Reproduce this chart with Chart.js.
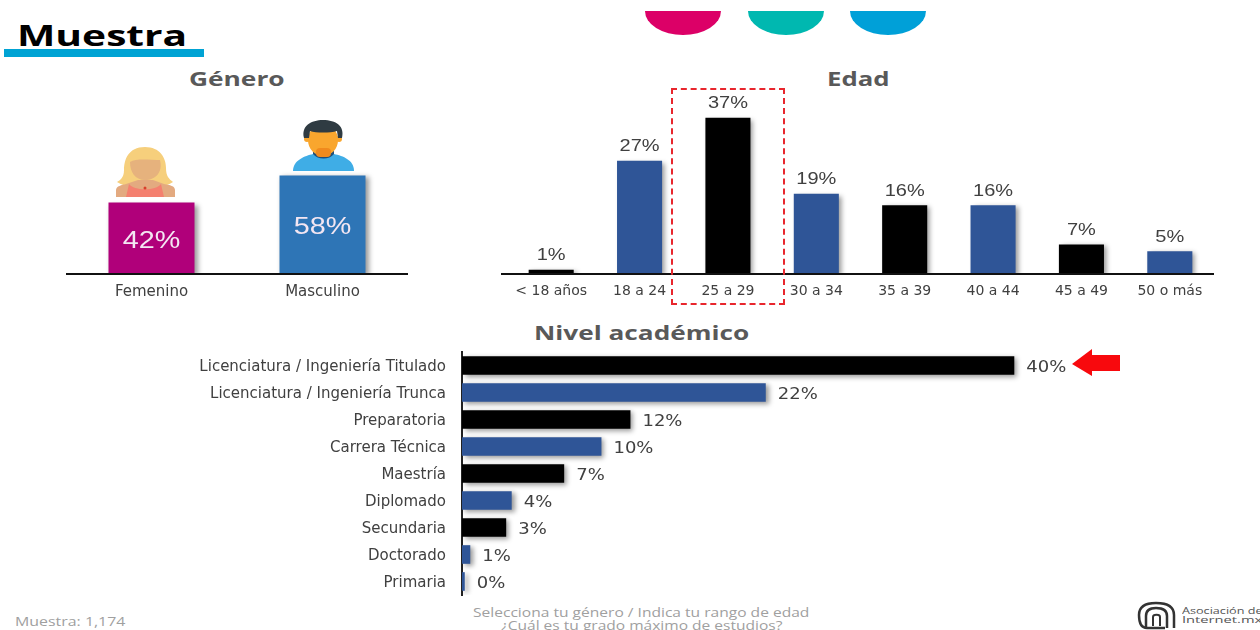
<!DOCTYPE html>
<html lang="es">
<head>
<meta charset="utf-8">
<title>Muestra</title>
<script src="https://cdn.jsdelivr.net/npm/chart.js@4"></script>
<style>
  html, body { margin: 0; padding: 0; background: #fff; }
  #page { position: relative; width: 1260px; height: 630px; overflow: hidden; background: #fff; filter: blur(0.55px); }
  #page canvas, #page svg, .txt, .box { position: absolute; }
  .txt { white-space: nowrap; transform-origin: 0 50%; line-height: 1; font-family: "Open Sans", sans-serif; }
  .head { font-weight: 700; font-size: 20px; color: #595959; }
  .foot { font-size: 12px; color: #a0a0a0; }
  .box { left: 671px; top: 88px; width: 110px; height: 213px; border: 2px dashed #e8262d; }
</style>
</head>
<body>
<div id="page">
  <svg style="left:0;top:0" width="1260" height="630">
    <!-- circulos de arriba, cortados por la orilla de la diapositiva -->
    <path d="M645 11 A38 24 0 0 0 721 11 Z" fill="#dc0067"/>
    <path d="M748 11 A38 24 0 0 0 824 11 Z" fill="#00b8b0"/>
    <path d="M850 11 A38 24 0 0 0 926 11 Z" fill="#00a0d8"/>
    <rect x="4" y="49" width="200" height="8" fill="#00a3d4"/>
    <!-- mujer -->
    <path d="M145 147 C128 147 124 160 124 170 C124 178 120 180 117 182 C124 187 134 187 138 184 L152 184 C158 187 166 187 173 182 C169 179 166 176 166 168 C166 158 160 147 145 147 Z" fill="#f6cf7c"/>
    <path d="M130 162 C136 158 150 160 160 160 C163 172 156 180 145 180 C135 180 130 172 130 162 Z" fill="#e6b27d"/>
    <path d="M116 197 L116 190 C116 186 122 185 126 184 L138 180 L153 180 L164 184 C170 185 175 186 175 190 L175 197 Z" fill="#e3aa80"/>
    <path d="M126 197 L129 184 C134 191 156 191 161 184 L164 197 Z" fill="#f4806f"/>
    <circle cx="145" cy="188" r="1.5" fill="#d8402c"/>
    <!-- hombre -->
    <path d="M293 171 C293 160 305 156 313 154 L334 154 C343 156 354 160 354 171 Z" fill="#3fade6"/>
    <path d="M313 154 C318 160 329 160 334 154 L334 151 L313 151 Z" fill="#1f4e79"/>
    <ellipse cx="323" cy="140" rx="15" ry="16" fill="#f9a62e"/>
    <circle cx="307" cy="139" r="3" fill="#f9a62e"/>
    <circle cx="339" cy="139" r="3" fill="#f9a62e"/>
    <rect x="316" y="148" width="15" height="9" rx="4" fill="#f08a1d"/>
    <path d="M304 138 C301 126 311 120 323 120 C336 120 345 126 342 138 L338 138 L337 131 C330 133 316 133 310 131 L309 138 Z" fill="#2f3b42"/>
    <!-- flecha -->
    <path d="M1072 364 L1092 349 L1092 355 L1120 355 L1120 371 L1092 371 L1092 376 Z" fill="#f8090d"/>
    <!-- logo -->
    <g fill="none" stroke="#333">
      <path d="M1165 628 L1147 628 C1141 628 1139 622 1139 615 C1139 607 1145 603 1156 603 C1168 603 1174 607 1174 615 L1174 628" stroke-width="2.5"/>
      <path d="M1146 628 L1146 616 C1146 610 1150 608 1156 608 C1163 608 1167 610 1167 616 L1167 628" stroke-width="2.5"/>
      <path d="M1153 626 L1153 617 C1153 614 1160 614 1160 617 L1160 626" stroke-width="2"/>
    </g>
  </svg>

  <div class="txt" data-w="170" style="left:17px;top:21px;font-size:28px;font-weight:700;color:#000">Muestra</div>
  <div class="txt head" data-w="96" style="left:189px;top:69px">Género</div>
  <div class="txt head" data-w="63" style="left:827px;top:69px">Edad</div>
  <div class="txt head" data-w="215" style="left:534px;top:323px">Nivel académico</div>

  <canvas id="generoChart" style="left:40px;top:100px" width="400" height="210"></canvas>
  <canvas id="edadChart" style="left:490px;top:84px" width="740" height="226"></canvas>
  <canvas id="nivelChart" style="left:180px;top:345px" width="1000" height="256"></canvas>

  <div class="box"></div>

  <div class="txt foot" data-w="110" style="left:15px;top:616px;">Muestra: 1,174</div>
  <div class="txt foot" data-w="336" style="left:473px;top:607px;">Selecciona tu género / Indica tu rango de edad</div>
  <div class="txt foot" data-w="281" style="left:501px;top:620px;">¿Cuál es tu grado máximo de estudios?</div>
  <div class="txt" data-w="80" style="left:1182px;top:606px;font-size:9px;color:#555">Asociación de</div>
  <div class="txt" data-w="80" style="left:1182px;top:615px;font-size:9px;color:#555">Internet.mx</div>
</div>

<script>
const FONT = '"DejaVu Sans", sans-serif';

const generoLabels = ['Femenino', 'Masculino'];
const generoValues = [42, 58];
const generoColors = ['#b0007a', '#2e75b6'];

const edadLabels = ['< 18 años', '18 a 24', '25 a 29', '30 a 34', '35 a 39', '40 a 44', '45 a 49', '50 o más'];
const edadValues = [1, 26.8, 37, 19, 16.3, 16.3, 7, 5.4];
const edadColors = ['#000000', '#2f5597', '#000000', '#2f5597', '#000000', '#2f5597', '#000000', '#2f5597'];

const nivelLabels = ['Licenciatura / Ingeniería Titulado', 'Licenciatura / Ingeniería Trunca', 'Preparatoria',
    'Carrera Técnica', 'Maestría', 'Diplomado', 'Secundaria', 'Doctorado', 'Primaria'];
const nivelValues = [40, 22, 12.2, 10.1, 7.4, 3.6, 3.2, 0.6, 0.2];
const nivelColors = ['#000000', '#2f5597', '#000000', '#2f5597', '#000000', '#2f5597', '#000000', '#2f5597', '#2f5597'];

// stretch the html text to the width it has on the slide
document.querySelectorAll('.txt[data-w]').forEach(el => {
    el.style.transform = 'scaleX(' + (el.dataset.w / el.offsetWidth) + ')';
});

// soft shadow under the bars
const barShadow = {
    id: 'barShadow',
    beforeDatasetsDraw(chart) {
        const ctx = chart.ctx;
        ctx.save();
        ctx.shadowColor = 'rgba(0, 0, 0, 0.4)';
        ctx.shadowBlur = 5;
        ctx.shadowOffsetX = 3;
        ctx.shadowOffsetY = 2;
    },
    afterDatasetsDraw(chart) {
        chart.ctx.restore();
    }
};

// percent labels, the font on the slide is wider than any we have so scale it
const pctLabels = {
    id: 'pctLabels',
    afterDatasetsDraw(chart, args, opts) {
        const ctx = chart.ctx;
        const meta = chart.getDatasetMeta(0);
        meta.data.forEach((bar, i) => {
            const text = Math.round(chart.data.datasets[0].data[i]) + '%';
            let x = bar.x, y = bar.y;
            if (opts.mode === 'inside') y = (bar.y + bar.base) / 2 + 3;
            if (opts.mode === 'above') y = bar.y - 14;
            if (opts.mode === 'right') { x = bar.x + 12; y = bar.y + 2.5; }
            ctx.save();
            ctx.translate(x, y);
            ctx.scale(opts.stretch, 1);
            ctx.font = opts.size + 'px ' + opts.family;
            ctx.fillStyle = opts.color;
            ctx.textBaseline = 'middle';
            ctx.textAlign = opts.mode === 'right' ? 'left' : 'center';
            ctx.fillText(text, 0, 0);
            ctx.restore();
        });
    }
};

// base line, it runs a bit past the plot on the edad chart
const baseLine = {
    id: 'baseLine',
    afterDraw(chart, args, opts) {
        if (!opts.show) return;
        const ctx = chart.ctx, a = chart.chartArea;
        ctx.save();
        ctx.strokeStyle = '#111';
        ctx.lineWidth = 2;
        ctx.beginPath();
        ctx.moveTo(a.left - opts.extra, a.bottom);
        ctx.lineTo(a.right, a.bottom);
        ctx.stroke();
        ctx.restore();
    }
};

function columnChart(id, labels, values, colors, yMax, barPct, tickSize, padding, labelOpts, extra) {
    return new Chart(document.getElementById(id), {
        type: 'bar',
        data: { labels: labels, datasets: [{ data: values, backgroundColor: colors, barPercentage: barPct, categoryPercentage: 1 }] },
        plugins: [barShadow, pctLabels, baseLine],
        options: {
            responsive: false,
            animation: false,
            layout: { padding: padding },
            plugins: {
                legend: { display: false },
                tooltip: { enabled: false },
                pctLabels: labelOpts,
                baseLine: { show: true, extra: extra }
            },
            scales: {
                x: {
                    grid: { display: false },
                    border: { display: false },
                    afterFit(scale) { scale.height = 36; },
                    ticks: { color: '#404040', font: { family: FONT, size: tickSize }, maxRotation: 0, autoSkip: false, padding: 1 }
                },
                y: { display: false, min: 0, max: yMax }
            }
        }
    });
}

columnChart('generoChart', generoLabels, generoValues, generoColors, 96.5, 0.503, 15,
    { left: 26, right: 32, top: 10, bottom: 0 },
    { mode: 'inside', size: 23, family: '"Liberation Sans", sans-serif', color: '#f3e6f2', stretch: 1.25 }, 0);

columnChart('edadChart', edadLabels, edadValues, edadColors, 42.6, 0.51, 14,
    { left: 17, right: 16, top: 10, bottom: 0 },
    { mode: 'above', size: 16, family: '"Liberation Sans", sans-serif', color: '#404040', stretch: 1.25 }, 6);

new Chart(document.getElementById('nivelChart'), {
    type: 'bar',
    data: { labels: nivelLabels, datasets: [{ data: nivelValues, backgroundColor: nivelColors, barPercentage: 0.69, categoryPercentage: 1 }] },
    plugins: [barShadow, pctLabels],
    options: {
        indexAxis: 'y',
        responsive: false,
        animation: false,
        layout: { padding: { top: 7, bottom: 6, left: 0, right: 0 } },
        plugins: {
            legend: { display: false },
            tooltip: { enabled: false },
            pctLabels: { mode: 'right', size: 15, family: FONT, color: '#404040', stretch: 1.2 }
        },
        scales: {
            x: { display: false, min: 0, max: 52 },
            y: {
                grid: { display: false },
                border: { display: true, color: '#222', width: 2 },
                afterFit(scale) { scale.width = 282; scale.paddingTop = 0; scale.paddingBottom = 0; },
                ticks: { color: '#404040', font: { family: FONT, size: 15 }, autoSkip: false, padding: 8, labelOffset: 2 }
            }
        }
    }
});
</script>
</body>
</html>
